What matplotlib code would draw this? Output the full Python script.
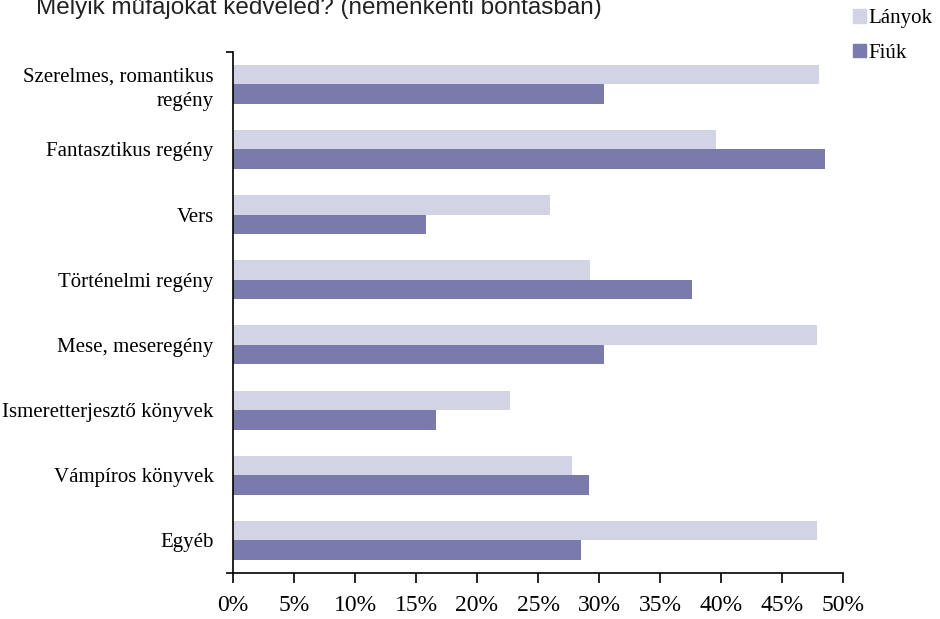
import matplotlib
matplotlib.use("Agg")
import matplotlib.pyplot as plt
from matplotlib.patches import Patch
import numpy as np

categories = ["Szerelmes, romantikus\nregény", "Fantasztikus regény", "Vers",
              "Történelmi regény", "Mese, meseregény", "Ismeretterjesztő könyvek",
              "Vámpíros könyvek", "Egyéb"]
lanyok = [48.0, 39.6, 26.0, 29.3, 47.9, 22.7, 27.8, 47.9]
fiuk = [30.4, 48.5, 15.8, 37.6, 30.4, 16.6, 29.2, 28.5]
xticks = [0, 5, 10, 15, 20, 25, 30, 35, 40, 45, 50]
xticklabels = [f"{t}%" for t in xticks]
title = "Melyik műfajokat kedveled? (nemenkénti bontásban)"

c_l = "#D3D3E6"
c_f = "#7B7AAC"
serif = ["Liberation Serif", "DejaVu Serif"]

fig = plt.figure(figsize=(9.4, 6.19), dpi=100)
ax = fig.add_axes([233/940, 1-573/619, (843-233)/940, (573-51.7)/619])

y = np.arange(len(categories))
h = 0.3
ax.barh(y - h/2, lanyok, height=h, color=c_l, label="Lányok")
ax.barh(y + h/2, fiuk, height=h, color=c_f, label="Fiúk")

ax.set_ylim(len(categories) - 0.5, -0.5)
ax.set_xlim(0, 50)
ax.set_xticks(xticks)
ax.set_xticklabels(xticklabels, fontfamily=serif, fontsize=17)
ax.set_yticks(y)
ax.set_yticklabels(categories, fontfamily=serif, fontsize=15, linespacing=1.35)
ax.tick_params(axis="y", length=0, pad=14)
ax.tick_params(axis="x", length=7, width=1.2, pad=9, direction="out")
ax.set_yticks([-0.5, len(categories) - 0.5], minor=True)
ax.tick_params(axis="y", which="minor", length=5, width=1.2)

for s in ["top", "right"]:
    ax.spines[s].set_visible(False)
for s in ["left", "bottom"]:
    ax.spines[s].set_linewidth(1.2)

fig.text(36/940, 1-14/619, title, fontfamily=["Liberation Sans", "DejaVu Sans"],
         fontsize=17.5, color="#222222", va="baseline", ha="left")

handles = [Patch(color=c_l, label="Lányok"), Patch(color=c_f, label="Fiúk")]
fig.legend(handles=handles, loc="upper left", bbox_to_anchor=(845/940, 1-1/619),
           frameon=False, prop={"family": serif, "size": 15},
           handlelength=0.6, handleheight=0.6, handletextpad=0.1,
           labelspacing=0.75, borderaxespad=0)

fig.savefig("out.png", dpi=100)
